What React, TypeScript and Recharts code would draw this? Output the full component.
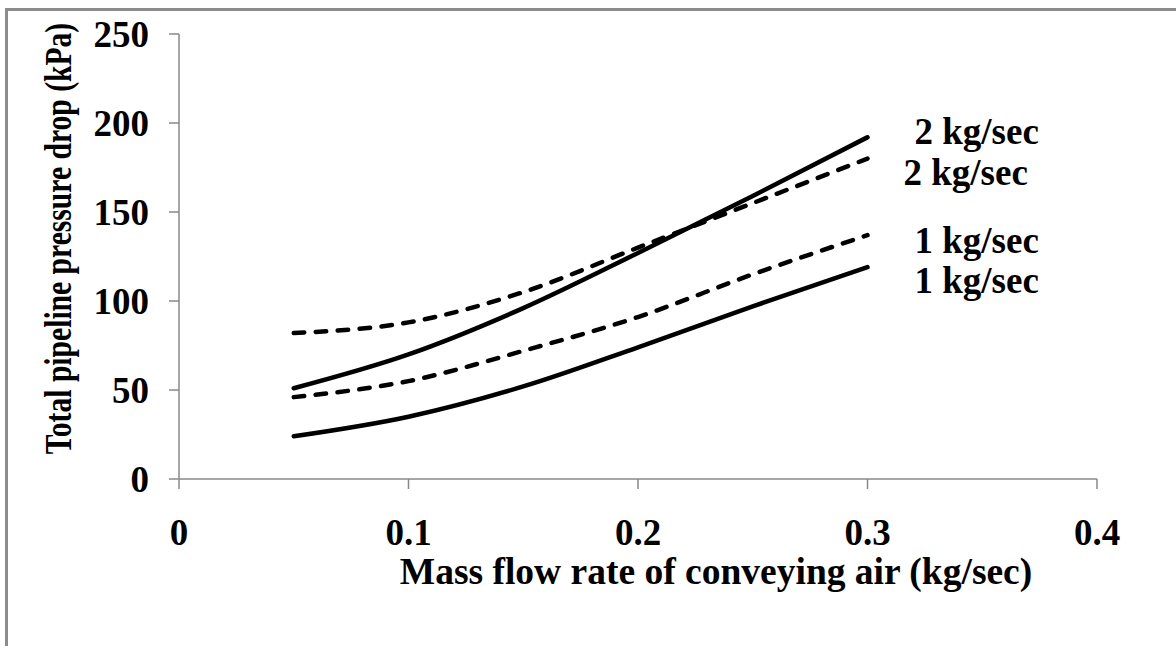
import { LineChart, Line, XAxis, YAxis, Label } from 'recharts'

// air mass flow rate (kg/sec)
const airFlow = [0.05, 0.1, 0.15, 0.2, 0.25, 0.3]

// total pipeline pressure drop (kPa)
const solid2 = [51, 70, 96, 127, 159, 192]
const dashed2 = [82, 88, 105, 130, 155, 180]
const dashed1 = [46, 55, 72, 91, 115, 137]
const solid1 = [24, 35, 52, 74, 97, 119]

const xTicks = [0, 0.1, 0.2, 0.3, 0.4]
const yTicks = [0, 50, 100, 150, 200, 250]

const seriesNames = ['2 kg/sec', '2 kg/sec', '1 kg/sec', '1 kg/sec']

const rows = airFlow.map((x, i) => ({
  x,
  solid2: solid2[i],
  dashed2: dashed2[i],
  dashed1: dashed1[i],
  solid1: solid1[i],
}))

const FONT = '"Liberation Serif", "Times New Roman", serif'
const AXIS = '#888888'
const tickStyle = { fontFamily: FONT, fontWeight: 700, fontSize: 37, fill: '#000' }

function endLabel(text: string, dx: number, dy: number, last: number) {
  return (p: any) => {
    if (p.index !== last) return <g />
    return (
      <text x={p.x + dx} y={p.y + dy} fontFamily={FONT} fontWeight={700} fontSize={37} fill="#000">
        {text}
      </text>
    )
  }
}

function XTitle({ viewBox }: any) {
  return (
    <text x={viewBox.x + viewBox.width / 2 + 78} y={viewBox.y + 105} textAnchor="middle"
      fontFamily={FONT} fontWeight={700} fontSize={37.5} fill="#000">
      Mass flow rate of conveying air (kg/sec)
    </text>
  )
}

function YTitle({ viewBox }: any) {
  const cx = 58
  const cy = viewBox.y + viewBox.height / 2 - 18
  // the original title is squeezed along its length
  return (
    <text x={0} y={0} transform={`translate(${cx} ${cy}) rotate(-90) scale(0.8 1)`} textAnchor="middle"
      dominantBaseline="central" fontFamily={FONT} fontWeight={700} fontSize={37} fill="#000">
      Total pipeline pressure drop (kPa)
    </text>
  )
}

export default function App() {
  const last = airFlow.length - 1
  return (
    <div style={{ position: 'absolute', left: 0, top: 0, width: 1176, height: 646, background: '#fff', overflow: 'hidden' }}>
      <div style={{ position: 'absolute', left: 5, top: 8, width: 1200, height: 700, borderTop: '3px solid #8c8c8c', borderLeft: '3px solid #8c8c8c' }} />
      <LineChart width={1176} height={646} data={rows} margin={{ top: 34, right: 79, left: 0, bottom: 0 }}>
        <XAxis dataKey="x" type="number" domain={[0, 0.4]} ticks={xTicks} allowDataOverflow
          stroke={AXIS} strokeWidth={1.5} tickSize={10} tickMargin={30} height={167}
          tick={tickStyle} tickLine={{ stroke: AXIS, strokeWidth: 1.5 }}>
          <Label content={<XTitle />} />
        </XAxis>
        <YAxis type="number" domain={[0, 250]} ticks={yTicks} width={179}
          stroke={AXIS} strokeWidth={1.5} tickSize={10} tickMargin={20}
          tick={tickStyle} tickLine={{ stroke: AXIS, strokeWidth: 1.5 }}>
          <Label content={<YTitle />} />
        </YAxis>
        <Line dataKey="solid2" type="monotone" stroke="#000" strokeWidth={4.5} dot={false} strokeLinecap="round"
          isAnimationActive={false} label={endLabel(seriesNames[0], 47, 7, last)} />
        <Line dataKey="dashed2" type="monotone" stroke="#000" strokeWidth={4.5} dot={false} strokeLinecap="round"
          strokeDasharray="10.5 11.5" isAnimationActive={false} label={endLabel(seriesNames[1], 36, 26, last)} />
        <Line dataKey="dashed1" type="monotone" stroke="#000" strokeWidth={4.5} dot={false} strokeLinecap="round"
          strokeDasharray="10.5 11.5" isAnimationActive={false} label={endLabel(seriesNames[2], 47, 18, last)} />
        <Line dataKey="solid1" type="monotone" stroke="#000" strokeWidth={4.5} dot={false} strokeLinecap="round"
          isAnimationActive={false} label={endLabel(seriesNames[3], 47, 26, last)} />
      </LineChart>
    </div>
  )
}
